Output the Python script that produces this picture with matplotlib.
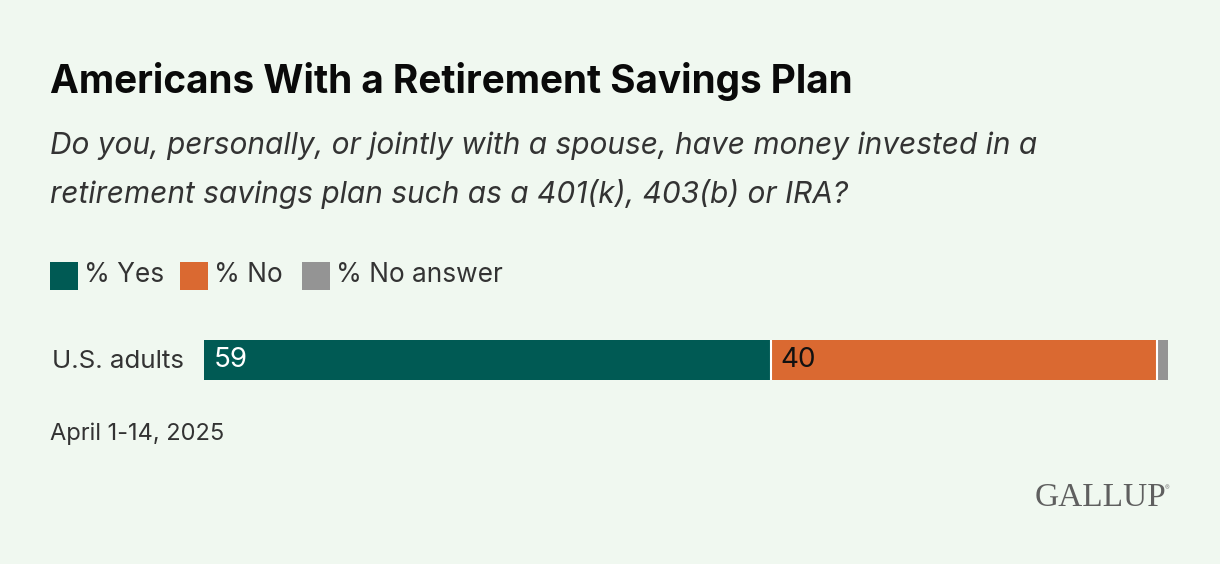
import matplotlib
matplotlib.use("Agg")
import matplotlib.pyplot as plt
from matplotlib.patches import Rectangle

W, H = 1220, 564
BG = "#f0f8f0"

categories = ["U.S. adults"]
series_names = ["% Yes", "% No", "% No answer"]
series_values = [58.8, 40.1, 1.1]
series_colors = ["#005a54", "#da6931", "#949494"]
value_colors = ["white", "#111111", None]

plt.rcParams["font.family"] = ["Inter", "DejaVu Sans"]

fig = plt.figure(figsize=(W / 100, H / 100), dpi=100, facecolor=BG)


def px_text(x, y, s, **kw):
    fig.text(x / W, 1 - y / H, s, va="center", **kw)


# -----------------------------
# heading
# -----------------------------
px_text(50, 82, "Americans With a Retirement Savings Plan", fontsize=27.9,
        fontweight="bold", color="#0a0a0a")
px_text(50, 146, "Do you, personally, or jointly with a spouse, have money invested in a",
        fontsize=21.5, style="italic", color="#333333")
px_text(50, 194, "retirement savings plan such as a 401(k), 403(b) or IRA?",
        fontsize=21.5, style="italic", color="#333333")

# -----------------------------
# legend
# -----------------------------
legend_x = [50, 180, 302]
for name, color, x in zip(series_names, series_colors, legend_x):
    fig.patches.append(Rectangle((x / W, 1 - 290 / H), 28 / W, 28 / H,
                                 transform=fig.transFigure, color=color, lw=0))
    px_text(x + 33.5, 275, name, fontsize=18.9, color="#333333")

# -----------------------------
# bar
# -----------------------------
ax = fig.add_axes([204 / W, 1 - 380 / H, 964 / W, 40 / H])
ax.set_xlim(0, sum(series_values))
ax.set_ylim(-0.5, 0.5)
ax.axis("off")

left = 0
for val, color, tc in zip(series_values, series_colors, value_colors):
    ax.barh(categories, [val], left=left, height=1.0, color=color, linewidth=0)
    if left > 0:
        ax.axvline(left, color="white", lw=1.5)
    if tc:
        ax.text(left + 1.0, 0, str(round(val)), color=tc, fontsize=20,
                va="center", ha="left")
    left += val

px_text(52, 361, categories[0], fontsize=18.7, color="#333333")
px_text(50, 434, "April 1-14, 2025", fontsize=17.0, color="#333333")

# -----------------------------
# logo
# -----------------------------
px_text(1035, 498, "GALLUP", family="Liberation Serif", fontsize=24,
        color="#5f5f5f")
px_text(1165, 488, "®", fontsize=5, color="#8a8a8a")

fig.savefig("out.png", dpi=100, facecolor=BG)
